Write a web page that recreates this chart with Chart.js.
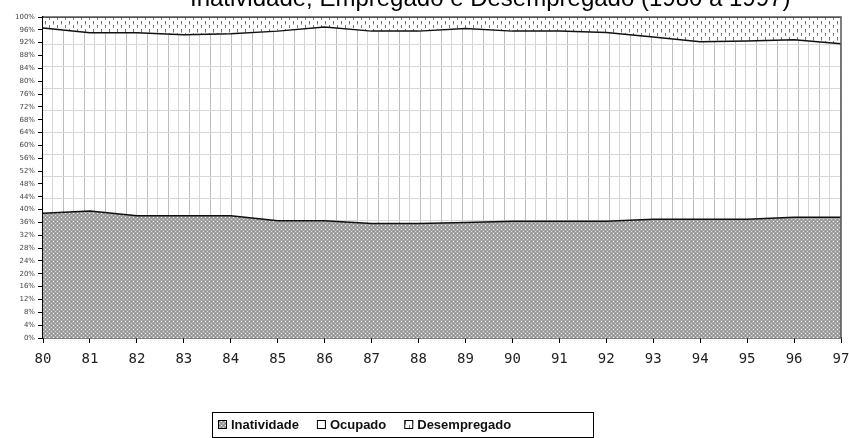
<!DOCTYPE html>
<html>
<head>
<meta charset="utf-8">
<script src="https://cdn.jsdelivr.net/npm/chart.js@4"></script>
<style>
	html, body { margin:0; padding:0; background:#fff; }
	#wrap { width:849px; height:438px; position:relative; }
</style>
</head>
<body>
<div id="wrap"><canvas id="chart" width="849" height="438"></canvas></div>
<script>
// 연도 (80 ~ 97)
var years = ['80','81','82','83','84','85','86','87','88','89','90','91','92','93','94','95','96','97'];
// 각 계열 (%)
var inatividade  = [38.9, 39.6, 38.1, 38.1, 38.1, 36.5, 36.5, 35.7, 35.7, 36.0, 36.4, 36.4, 36.4, 37.0, 37.0, 37.0, 37.6, 37.6];
var ocupado      = [57.7, 55.5, 57.0, 56.4, 56.7, 59.1, 60.4, 59.9, 59.9, 60.4, 59.2, 59.2, 58.8, 56.8, 55.3, 55.5, 55.3, 54.1];
var desempregado = [3.4, 4.9, 4.9, 5.5, 5.2, 4.4, 3.1, 4.4, 4.4, 3.6, 4.4, 4.4, 4.8, 6.2, 7.7, 7.5, 7.1, 8.3];
var seriesNames = ['Inatividade', 'Ocupado', 'Desempregado'];
var titleText = 'Inatividade, Empregado e Desempregado (1980 a 1997)';

// 패턴 만들기
function makePattern(w, h, draw){
	var c = document.createElement('canvas');
	c.width = w; c.height = h;
	var g = c.getContext('2d');
	draw(g);
	return g.createPattern(c, 'repeat');
}

var patInat = makePattern(4, 4, function(g){
	g.fillStyle = '#a4a4a4'; g.fillRect(0, 0, 4, 4);
	g.fillStyle = '#ffffff'; g.fillRect(1, 1, 1, 1);
	g.fillStyle = '#d4d4d4'; g.fillRect(3, 3, 1, 1);
	g.fillStyle = '#8c8c8c'; g.fillRect(3, 1, 1, 1); g.fillRect(1, 3, 1, 1);
});
var patOcup = makePattern(21, 22, function(g){
	g.fillStyle = '#ffffff'; g.fillRect(0, 0, 21, 22);
	g.fillStyle = '#bdbdbd'; g.fillRect(0, 0, 1, 22);
	g.fillStyle = '#d4d4d4'; g.fillRect(10, 0, 1, 22);
	g.fillStyle = '#d8d8d8'; g.fillRect(0, 0, 21, 1);
});
var patDes = makePattern(8, 8, function(g){
	g.fillStyle = '#ffffff'; g.fillRect(0, 0, 8, 8);
	g.fillStyle = '#777777'; g.fillRect(1, 1, 1, 3); g.fillRect(5, 5, 1, 3);
	g.fillStyle = '#bbbbbb'; g.fillRect(5, 0, 1, 1);
});

// 제목, 테두리, 범례
var decor = {
	id: 'decor',
	afterDraw: function(chart){
		var ctx = chart.ctx, a = chart.chartArea;
		ctx.save();
		// 플롯 테두리
		ctx.strokeStyle = '#555';
		ctx.lineWidth = 1.5;
		ctx.beginPath();
		ctx.moveTo(a.left, a.top); ctx.lineTo(a.right, a.top); ctx.lineTo(a.right, a.bottom);
		ctx.stroke();
		// 제목 (위쪽이 잘려 있음)
		ctx.fillStyle = '#000';
		ctx.font = '24px "Liberation Sans", Arial, sans-serif';
		ctx.textAlign = 'left';
		ctx.textBaseline = 'alphabetic';
		ctx.fillText(titleText, 190, 6);
		// 범례
		var bx = 212, by = 412, bw = 381, bh = 25;
		ctx.fillStyle = '#fff';
		ctx.fillRect(bx, by, bw, bh);
		ctx.strokeStyle = '#000';
		ctx.lineWidth = 1;
		ctx.strokeRect(bx + 0.5, by + 0.5, bw, bh);
		ctx.font = 'bold 13px "Liberation Sans", Arial, sans-serif';
		ctx.textBaseline = 'middle';
		var x = bx + 6;
		chart.data.datasets.forEach(function(ds){
			ctx.fillStyle = ds.backgroundColor;
			ctx.fillRect(x, by + 8, 9, 9);
			ctx.strokeStyle = '#000';
			ctx.strokeRect(x + 0.5, by + 8.5, 8, 8);
			ctx.fillStyle = '#111';
			ctx.fillText(ds.label, x + 13, by + 13.5);
			x += 13 + ctx.measureText(ds.label).width + 18;
		});
		ctx.restore();
	}
};

var vals = [inatividade, ocupado, desempregado];
var fills = [patInat, patOcup, patDes];

var datasets = seriesNames.map(function(name, i){
	return {
		label: name,
		data: vals[i],
		backgroundColor: fills[i],
		borderColor: '#111',
		borderWidth: 1.5,
		pointRadius: 0,
		tension: 0,
		fill: i == 0 ? 'origin' : '-1'
	};
});

var chart = new Chart(document.getElementById('chart'), {
	type: 'line',
	data: { labels: years, datasets: datasets },
	plugins: [decor],
	options: {
		responsive: false,
		animation: false,
		layout: { padding: { top: 17, right: 8, bottom: 60, left: 0 } },
		plugins: {
			legend: { display: false },
			title: { display: false },
			tooltip: { enabled: false }
		},
		scales: {
			x: {
				offset: false,
				border: { color: '#000', width: 1.5 },
				grid: { drawOnChartArea: false, drawTicks: true, tickLength: 5, color: '#000' },
				ticks: {
					color: '#222',
					font: { size: 14, family: '"DejaVu Sans Mono", monospace' },
					padding: 8,
					maxRotation: 0,
					autoSkip: false
				},
				afterFit: function(s){
					s.height = 40;
					// 마지막 라벨 때문에 오른쪽이 줄어들지 않도록
					s.paddingRight = 0;
					s.paddingLeft = 0;
				}
			},
			y: {
				stacked: true,
				min: 0,
				max: 100,
				border: { color: '#000', width: 1.5 },
				grid: { drawOnChartArea: false, drawTicks: true, tickLength: 5, color: '#000' },
				ticks: {
					stepSize: 4,
					autoSkip: false,
					color: '#444',
					font: { size: 7, family: '"DejaVu Sans", sans-serif' },
					padding: 3,
					callback: function(v){ return v + '%'; }
				},
				afterFit: function(s){ s.width = 43; }
			}
		}
	}
});
</script>
</body>
</html>
